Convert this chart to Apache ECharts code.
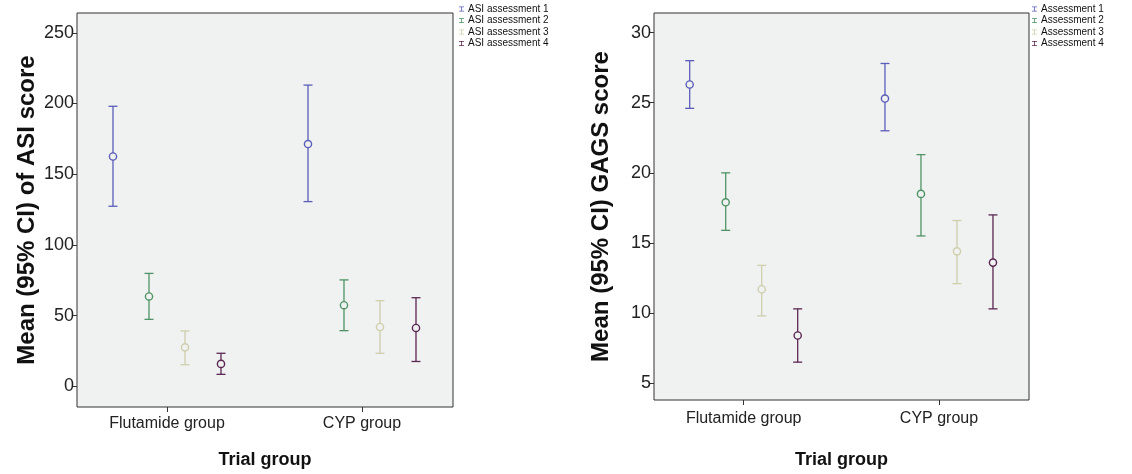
<!DOCTYPE html>
<html>
<head>
<meta charset="utf-8">
<script src="https://cdn.jsdelivr.net/npm/echarts@6/dist/echarts.min.js"></script>
<style>
html,body{margin:0;padding:0;background:#fff;}
#chart{width:1132px;height:474px;}
</style>
</head>
<body>
<div id="chart"></div>
<script>
// ---- data ----
const groups = ['Flutamide group', 'CYP group'];
const groupPositions = [1, 2];

const asiNames = ['ASI assessment 1', 'ASI assessment 2', 'ASI assessment 3', 'ASI assessment 4'];
const asiMean  = [[162.5, 171.3], [63.5, 57.3], [27.5, 41.9], [15.8, 41.2]];
const asiLower = [[127.3, 130.6], [47.3, 39.3], [15.2, 23.3], [8.4, 17.5]];
const asiUpper = [[198.0, 213.0], [79.8, 75.2], [39.1, 60.5], [23.3, 62.6]];
const asiTicks = [0, 50, 100, 150, 200, 250];

const gagsNames = ['Assessment 1', 'Assessment 2', 'Assessment 3', 'Assessment 4'];
const gagsMean  = [[26.3, 25.3], [17.9, 18.5], [11.7, 14.4], [8.4, 13.6]];
const gagsLower = [[24.6, 23.0], [15.9, 15.5], [9.8, 12.1], [6.5, 10.3]];
const gagsUpper = [[28.0, 27.8], [20.0, 21.3], [13.4, 16.6], [10.3, 17.0]];
const gagsTicks = [5, 10, 15, 20, 25, 30];

// ---- styles ----
const colors = ['#5b5eb9', '#4f9466', '#cfcfac', '#5b2752'];
const OFFSET = 36;
const CAP = 4.5;
const R = 3.6;
const iconPath = 'path://M0,0H10V1.6H5.8V8.4H10V10H0V8.4H4.2V1.6H0Z';
const FONT = 'Liberation Sans, Arial, sans-serif';

function makeRender(k, color) {
  return function (params, api) {
    const gx = api.value(0);
    const m = api.coord([gx, api.value(1)]);
    const lo = api.coord([gx, api.value(2)]);
    const hi = api.coord([gx, api.value(3)]);
    const x = m[0] + (k - 1.5) * OFFSET;
    const st = { stroke: color, lineWidth: 1.3, fill: null };
    return {
      type: 'group',
      children: [
        { type: 'line', shape: { x1: x, y1: lo[1], x2: x, y2: hi[1] }, style: st },
        { type: 'line', shape: { x1: x - CAP, y1: lo[1], x2: x + CAP, y2: lo[1] }, style: st },
        { type: 'line', shape: { x1: x - CAP, y1: hi[1], x2: x + CAP, y2: hi[1] }, style: st },
        { type: 'circle', shape: { cx: x, cy: m[1], r: R }, style: { stroke: color, lineWidth: 1.4, fill: '#f0f1f1' } }
      ]
    };
  };
}

function buildSeries(names, mean, lower, upper, axisIdx) {
  return names.map(function (n, k) {
    return {
      type: 'custom',
      name: n,
      xAxisIndex: axisIdx,
      yAxisIndex: axisIdx,
      color: colors[k],
      renderItem: makeRender(k, colors[k]),
      encode: { x: 0, y: [1, 2, 3] },
      data: groups.map(function (g, i) { return [groupPositions[i], mean[k][i], lower[k][i], upper[k][i]]; }),
      z: 10 - k
    };
  });
}

const gridCommon = { show: true, backgroundColor: '#f0f1f1', borderColor: '#333', borderWidth: 1 };

function xAxisDef(gridIndex, min, max, gap, margin) {
  return {
    type: 'value', gridIndex: gridIndex, min: min, max: max,
    axisLine: { show: false, onZero: false },
    axisTick: { show: true, length: 5, lineStyle: { color: '#333' }, customValues: groupPositions },
    axisLabel: {
      fontSize: 16, color: '#222', fontFamily: FONT, margin: margin, customValues: groupPositions,
      formatter: function (v) { return groups[groupPositions.indexOf(v)] || ''; }
    },
    splitLine: { show: false },
    name: 'Trial group', nameLocation: 'middle', nameGap: gap,
    nameTextStyle: { fontSize: 18, fontWeight: 'bold', color: '#111', fontFamily: FONT }
  };
}

function yAxisDef(gridIndex, min, max, ticks, title, gap) {
  return {
    type: 'value', gridIndex: gridIndex, min: min, max: max,
    axisLine: { show: false },
    axisTick: { show: true, length: 5, lineStyle: { color: '#333' }, customValues: ticks },
    axisLabel: { fontSize: 18, color: '#222', fontFamily: FONT, margin: 3, customValues: ticks },
    splitLine: { show: false },
    name: title, nameLocation: 'middle', nameGap: gap,
    nameTextStyle: { fontSize: 24, fontWeight: 'bold', color: '#111', fontFamily: FONT }
  };
}

function legendDef(names, left) {
  return {
    orient: 'vertical', left: left, top: 4, padding: 0, itemGap: 1.5,
    itemWidth: 5, itemHeight: 8, icon: iconPath,
    data: names,
    selectedMode: false,
    textStyle: { fontSize: 10, color: '#111', fontFamily: FONT, padding: [0, 0, 0, -1] }
  };
}

const chart = echarts.init(document.getElementById('chart'), null, { renderer: 'canvas' });
chart.setOption({
  animation: false,
  backgroundColor: '#ffffff',
  grid: [
    Object.assign({ left: 77, top: 13, width: 376, height: 399 }, gridCommon),
    Object.assign({ left: 654, top: 13, width: 375, height: 392 }, gridCommon)
  ],
  xAxis: [xAxisDef(0, 0.5385, 2.4667, 44, 9), xAxisDef(1, 0.5407, 2.461, 51, 11)],
  yAxis: [
    yAxisDef(0, -14.7, 264, asiTicks, 'Mean (95% CI) of ASI score', 38),
    yAxisDef(1, 3.8, 31.4, gagsTicks, 'Mean (95% CI) GAGS score', 41)
  ],
  legend: [legendDef(asiNames, 459), legendDef(gagsNames, 1032)],
  series: buildSeries(asiNames, asiMean, asiLower, asiUpper, 0)
    .concat(buildSeries(gagsNames, gagsMean, gagsLower, gagsUpper, 1))
});
</script>
</body>
</html>
